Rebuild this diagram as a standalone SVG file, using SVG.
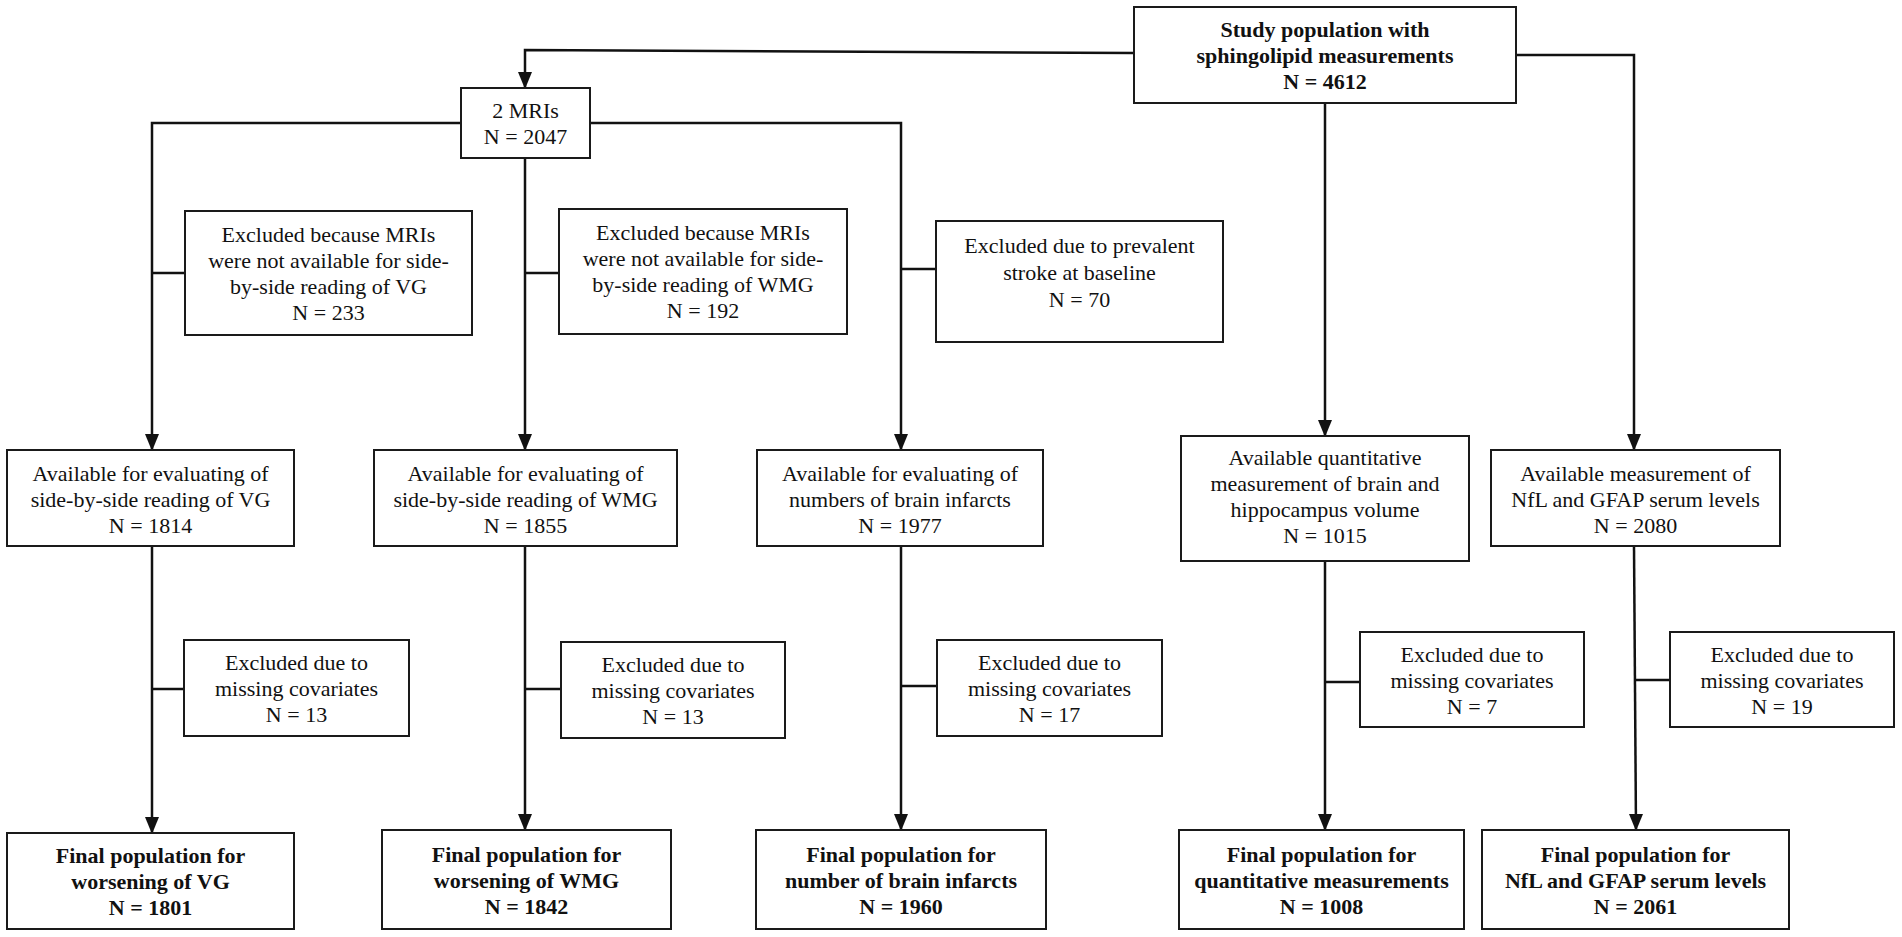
<svg xmlns="http://www.w3.org/2000/svg" width="1902" height="937" viewBox="0 0 1902 937">
<style>
.box{fill:#fff;stroke:#1a1a1a;stroke-width:2}
.t{font-family:"Liberation Serif","Times New Roman",serif;font-size:22px;fill:#111;text-anchor:middle}
.b{font-weight:bold}
.c{fill:none;stroke:#111;stroke-width:2.5}
</style>
<defs>
<marker id="ah" markerUnits="userSpaceOnUse" markerWidth="14" markerHeight="17" refX="7" refY="16" orient="0" viewBox="0 0 14 17">
<path d="M0,0 L14,0 L7,17 z" fill="#111"/>
</marker>
</defs>
<rect width="1902" height="937" fill="#fff"/>
<g id="connectors">
<polyline class="c" points="1134,53 525,50 525,88" marker-end="url(#ah)"/>
<polyline class="c" points="1516,55 1634,55 1634,450" marker-end="url(#ah)"/>
<line class="c" x1="1325" y1="103" x2="1325" y2="436" marker-end="url(#ah)"/>
<polyline class="c" points="461,123 152,123 152,450" marker-end="url(#ah)"/>
<polyline class="c" points="590,123 901,123 901,450" marker-end="url(#ah)"/>
<line class="c" x1="525" y1="158" x2="525" y2="450" marker-end="url(#ah)"/>
<line class="c" x1="152" y1="273" x2="185" y2="273"/>
<line class="c" x1="525" y1="273" x2="559" y2="273"/>
<line class="c" x1="901" y1="269" x2="936" y2="269"/>
<line class="c" x1="152" y1="546" x2="152" y2="833" marker-end="url(#ah)"/>
<line class="c" x1="525" y1="546" x2="525" y2="830" marker-end="url(#ah)"/>
<line class="c" x1="901" y1="546" x2="901" y2="830" marker-end="url(#ah)"/>
<line class="c" x1="1325" y1="561" x2="1325" y2="830" marker-end="url(#ah)"/>
<line class="c" x1="1634" y1="546" x2="1636" y2="830" marker-end="url(#ah)"/>
<line class="c" x1="152" y1="689" x2="184" y2="689"/>
<line class="c" x1="525" y1="689" x2="561" y2="689"/>
<line class="c" x1="901" y1="686" x2="937" y2="686"/>
<line class="c" x1="1325" y1="682" x2="1360" y2="682"/>
<line class="c" x1="1635" y1="680" x2="1670" y2="680"/>
</g>
<g id="study">
<rect class="box" x="1134" y="7" width="382" height="96"/>
<text class="t b" x="1325" y="37">Study population with</text>
<text class="t b" x="1325" y="63">sphingolipid measurements</text>
<text class="t b" x="1325" y="89">N = 4612</text>
</g>
<g id="mri">
<rect class="box" x="461" y="88" width="129" height="70"/>
<text class="t" x="525.5" y="118">2 MRIs</text>
<text class="t" x="525.5" y="144">N = 2047</text>
</g>
<g id="exclA">
<rect class="box" x="185" y="211" width="287" height="124"/>
<text class="t" x="328.5" y="242">Excluded because MRIs</text>
<text class="t" x="328.5" y="268">were not available for side-</text>
<text class="t" x="328.5" y="294">by-side reading of VG</text>
<text class="t" x="328.5" y="320">N = 233</text>
</g>
<g id="exclB">
<rect class="box" x="559" y="209" width="288" height="125"/>
<text class="t" x="703" y="240">Excluded because MRIs</text>
<text class="t" x="703" y="266">were not available for side-</text>
<text class="t" x="703" y="292">by-side reading of WMG</text>
<text class="t" x="703" y="318">N = 192</text>
</g>
<g id="exclC">
<rect class="box" x="936" y="221" width="287" height="121"/>
<text class="t" x="1079.5" y="253">Excluded due to prevalent</text>
<text class="t" x="1079.5" y="280">stroke at baseline</text>
<text class="t" x="1079.5" y="307">N = 70</text>
</g>
<g id="avail1">
<rect class="box" x="7" y="450" width="287" height="96"/>
<text class="t" x="150.5" y="481">Available for evaluating of</text>
<text class="t" x="150.5" y="507">side-by-side reading of VG</text>
<text class="t" x="150.5" y="533">N = 1814</text>
</g>
<g id="avail2">
<rect class="box" x="374" y="450" width="303" height="96"/>
<text class="t" x="525.5" y="481">Available for evaluating of</text>
<text class="t" x="525.5" y="507">side-by-side reading of WMG</text>
<text class="t" x="525.5" y="533">N = 1855</text>
</g>
<g id="avail3">
<rect class="box" x="757" y="450" width="286" height="96"/>
<text class="t" x="900" y="481">Available for evaluating of</text>
<text class="t" x="900" y="507">numbers of brain infarcts</text>
<text class="t" x="900" y="533">N = 1977</text>
</g>
<g id="avail4">
<rect class="box" x="1181" y="436" width="288" height="125"/>
<text class="t" x="1325" y="465">Available quantitative</text>
<text class="t" x="1325" y="491">measurement of brain and</text>
<text class="t" x="1325" y="517">hippocampus volume</text>
<text class="t" x="1325" y="543">N = 1015</text>
</g>
<g id="avail5">
<rect class="box" x="1491" y="450" width="289" height="96"/>
<text class="t" x="1635.5" y="481">Available measurement of</text>
<text class="t" x="1635.5" y="507">NfL and GFAP serum levels</text>
<text class="t" x="1635.5" y="533">N = 2080</text>
</g>
<g id="excl2a">
<rect class="box" x="184" y="640" width="225" height="96"/>
<text class="t" x="296.5" y="670">Excluded due to</text>
<text class="t" x="296.5" y="696">missing covariates</text>
<text class="t" x="296.5" y="722">N = 13</text>
</g>
<g id="excl2b">
<rect class="box" x="561" y="642" width="224" height="96"/>
<text class="t" x="673" y="672">Excluded due to</text>
<text class="t" x="673" y="698">missing covariates</text>
<text class="t" x="673" y="724">N = 13</text>
</g>
<g id="excl2c">
<rect class="box" x="937" y="640" width="225" height="96"/>
<text class="t" x="1049.5" y="670">Excluded due to</text>
<text class="t" x="1049.5" y="696">missing covariates</text>
<text class="t" x="1049.5" y="722">N = 17</text>
</g>
<g id="excl2d">
<rect class="box" x="1360" y="632" width="224" height="95"/>
<text class="t" x="1472" y="662">Excluded due to</text>
<text class="t" x="1472" y="688">missing covariates</text>
<text class="t" x="1472" y="714">N = 7</text>
</g>
<g id="excl2e">
<rect class="box" x="1670" y="632" width="224" height="95"/>
<text class="t" x="1782" y="662">Excluded due to</text>
<text class="t" x="1782" y="688">missing covariates</text>
<text class="t" x="1782" y="714">N = 19</text>
</g>
<g id="final1">
<rect class="box" x="7" y="833" width="287" height="96"/>
<text class="t b" x="150.5" y="863">Final population for</text>
<text class="t b" x="150.5" y="889">worsening of VG</text>
<text class="t b" x="150.5" y="915">N = 1801</text>
</g>
<g id="final2">
<rect class="box" x="382" y="830" width="289" height="99"/>
<text class="t b" x="526.5" y="862">Final population for</text>
<text class="t b" x="526.5" y="888">worsening of WMG</text>
<text class="t b" x="526.5" y="914">N = 1842</text>
</g>
<g id="final3">
<rect class="box" x="756" y="830" width="290" height="99"/>
<text class="t b" x="901" y="862">Final population for</text>
<text class="t b" x="901" y="888">number of brain infarcts</text>
<text class="t b" x="901" y="914">N = 1960</text>
</g>
<g id="final4">
<rect class="box" x="1179" y="830" width="285" height="99"/>
<text class="t b" x="1321.5" y="862">Final population for</text>
<text class="t b" x="1321.5" y="888">quantitative measurements</text>
<text class="t b" x="1321.5" y="914">N = 1008</text>
</g>
<g id="final5">
<rect class="box" x="1482" y="830" width="307" height="99"/>
<text class="t b" x="1635.5" y="862">Final population for</text>
<text class="t b" x="1635.5" y="888">NfL and GFAP serum levels</text>
<text class="t b" x="1635.5" y="914">N = 2061</text>
</g>
</svg>
